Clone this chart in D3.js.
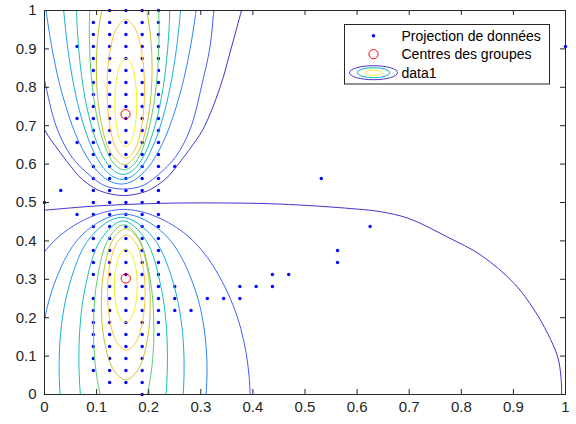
<!DOCTYPE html>
<html><head><meta charset="utf-8">
<script src="https://cdn.jsdelivr.net/npm/d3@7"></script>
<style>html,body{margin:0;padding:0;background:#fff;} svg{display:block;}</style>
</head><body>
<svg id="chart" width="576" height="424"></svg>
<script>
// ---------------- data ----------------
const xTickValues = [0,0.1,0.2,0.3,0.4,0.5,0.6,0.7,0.8,0.9,1];
const xTickLabels = ["0","0.1","0.2","0.3","0.4","0.5","0.6","0.7","0.8","0.9","1"];
const yTickValues = [0,0.1,0.2,0.3,0.4,0.5,0.6,0.7,0.8,0.9,1];
const yTickLabels = ["0","0.1","0.2","0.3","0.4","0.5","0.6","0.7","0.8","0.9","1"];

const legendLabels = ["Projection de données","Centres des groupes","data1"];

// Projected data points, grouped by row: [y, [x values]]
const projRows = [
  [1.0,     [0.125,0.15625,0.1875,0.21875]],
  [0.96875, [0.09375,0.125,0.15625,0.1875,0.21875]],
  [0.9375,  [0.09375,0.125,0.15625,0.1875,0.21875]],
  [0.90625, [0.0625,0.09375,0.125,0.15625,0.1875,0.21875,1.0]],
  [0.875,   [0.09375,0.125,0.15625,0.1875,0.21875]],
  [0.84375, [0.09375,0.125,0.15625,0.1875,0.21875]],
  [0.8125,  [0.09375,0.125,0.15625,0.1875,0.21875]],
  [0.78125, [0.09375,0.125,0.15625,0.1875,0.21875]],
  [0.75,    [0.09375,0.125,0.15625,0.1875,0.21875]],
  [0.71875, [0.0625,0.09375,0.125,0.15625,0.1875,0.21875]],
  [0.6875,  [0.09375,0.125,0.15625,0.1875,0.21875]],
  [0.65625, [0.0625,0.09375,0.125,0.15625,0.1875,0.21875]],
  [0.625,   [0.09375,0.125,0.15625,0.1875,0.21875]],
  [0.59375, [0.09375,0.125,0.15625,0.1875,0.21875,0.25]],
  [0.5625,  [0.09375,0.125,0.15625,0.1875,0.21875,0.53125]],
  [0.53125, [0.03125,0.09375,0.125,0.15625,0.1875,0.21875]],
  [0.5,     [0,0.09375,0.125,0.15625,0.1875,0.21875]],
  [0.46875, [0.0625,0.09375,0.125,0.15625,0.1875,0.21875]],
  [0.4375,  [0.09375,0.125,0.15625,0.1875,0.21875,0.625]],
  [0.40625, [0.09375,0.125,0.15625,0.1875,0.21875]],
  [0.375,   [0.09375,0.125,0.15625,0.1875,0.21875,0.5625]],
  [0.34375, [0.09375,0.125,0.15625,0.1875,0.21875,0.5625]],
  [0.3125,  [0.09375,0.125,0.15625,0.1875,0.21875,0.4375,0.46875]],
  [0.28125, [0.125,0.15625,0.1875,0.21875,0.25,0.375,0.40625,0.4375]],
  [0.25,    [0.09375,0.125,0.15625,0.1875,0.21875,0.25,0.3125,0.34375,0.375]],
  [0.21875, [0.09375,0.125,0.15625,0.1875,0.21875,0.25,0.28125]],
  [0.1875,  [0.09375,0.125,0.15625,0.1875,0.21875]],
  [0.15625, [0.09375,0.125,0.15625,0.1875,0.21875]],
  [0.125,   [0.09375,0.125,0.15625,0.1875]],
  [0.09375, [0.09375,0.125,0.15625,0.1875]],
  [0.0625,  [0.09375,0.125,0.15625,0.1875]],
  [0.03125, [0.125,0.15625,0.1875]],
  [0,       [0.1875]]
];

// Group centres
const centersX = [0.1555, 0.156];
const centersY = [0.730, 0.302];

// Contour levels (1 = lowest density, 9 = highest)
const contourLevels = [1,2,3,4,5,6,7,8,9];

// Upper group contour lines, index = level-1
const upperContours = [
  [[-0.083,1.05],[-0.074,1.0],[-0.054,0.9],[-0.033,0.8],[0.0,0.69],[0.027,0.636],[0.047,0.6],[0.065,0.57],[0.082,0.55],[0.107,0.53],[0.152,0.518],[0.197,0.53],[0.222,0.55],[0.239,0.57],[0.257,0.6],[0.277,0.636],[0.304,0.69],[0.337,0.8],[0.358,0.9],[0.378,1.0],[0.387,1.05]],
  [[-0.024,1.05],[-0.021,1.0],[-0.013,0.9],[0.0,0.818],[0.022,0.7],[0.044,0.636],[0.064,0.6],[0.107,0.55],[0.124,0.54],[0.152,0.535],[0.18,0.54],[0.197,0.55],[0.24,0.6],[0.26,0.636],[0.282,0.7],[0.304,0.818],[0.317,0.9],[0.325,1.0],[0.328,1.05]],
  [[-0.0014,1.05],[0.003,1.0],[0.0146,0.9],[0.0306,0.8],[0.0533,0.7],[0.0726,0.64],[0.0959,0.59],[0.1218,0.558],[0.147,0.548],[0.1722,0.558],[0.1981,0.59],[0.2214,0.64],[0.2407,0.7],[0.2634,0.8],[0.2794,0.9],[0.291,1.0],[0.2954,1.05]],
  [[0.0343,1.05],[0.0369,1.0],[0.0448,0.9],[0.0569,0.8],[0.071,0.72],[0.0887,0.65],[0.1079,0.6],[0.1282,0.57],[0.149,0.56],[0.1698,0.57],[0.1901,0.6],[0.2093,0.65],[0.227,0.72],[0.2411,0.8],[0.2532,0.9],[0.2611,1.0],[0.2637,1.05]],
  [[0.061,1.05],[0.063,0.95],[0.0693,0.85],[0.081,0.75],[0.0992,0.66],[0.1162,0.61],[0.1327,0.583],[0.151,0.573],[0.1693,0.583],[0.1858,0.61],[0.2028,0.66],[0.221,0.75],[0.2327,0.85],[0.239,0.95],[0.241,1.05]],
  [[0.0886,1.05],[0.086,0.95],[0.0886,0.85],[0.097,0.75],[0.110,0.67],[0.1244,0.62],[0.1374,0.595],[0.153,0.585],[0.1686,0.595],[0.1816,0.62],[0.196,0.67],[0.209,0.75],[0.2174,0.85],[0.22,0.95],[0.2174,1.05]],
  [[0.153,1.102],[0.1798,1.0682],[0.1993,0.9762],[0.2065,0.85],[0.1993,0.7238],[0.1798,0.6318],[0.153,0.598],[0.1263,0.6318],[0.1067,0.7238],[0.0995,0.85],[0.1067,0.9762],[0.1263,1.0682]],
  [[0.156,0.977],[0.174,0.9528],[0.1872,0.8865],[0.192,0.796],[0.1872,0.7055],[0.174,0.6393],[0.156,0.615],[0.138,0.6393],[0.1248,0.7055],[0.12,0.796],[0.1248,0.8865],[0.138,0.9528]],
  [[0.156,0.875],[0.1665,0.8596],[0.1742,0.8175],[0.177,0.76],[0.1742,0.7025],[0.1665,0.6604],[0.156,0.645],[0.1455,0.6604],[0.1378,0.7025],[0.135,0.76],[0.1378,0.8175],[0.1455,0.8596]]
];
const upperClosed = [false,false,false,false,false,false,true,true,true];

// Lower group contour lines, index = level-1
const lowerContours = [
  [[-0.05,0.474],[0.0,0.48],[0.1,0.491],[0.2,0.497],[0.3,0.499],[0.45,0.496],[0.59,0.484],[0.645,0.476],[0.7,0.458],[0.7735,0.41],[0.8375,0.363],[0.9016,0.289],[0.94,0.22],[0.9657,0.159],[0.985,0.098],[0.9913,0.046],[0.9926,0.0],[0.992,-0.03]],
  [[0.152,0.482],[0.2735,0.4147],[0.3624,0.231],[0.395,-0.02],[0.3624,-0.271],[0.2735,-0.4547],[0.152,-0.522],[0.0305,-0.4547],[-0.0584,-0.271],[-0.091,-0.02],[-0.0584,0.231],[0.0305,0.4147]],
  [[0.152,0.47],[0.232,0.4156],[0.2906,0.267],[0.312,0.064],[0.2906,-0.139],[0.232,-0.2876],[0.152,-0.342],[0.072,-0.2876],[0.0134,-0.139],[-0.008,0.064],[0.0134,0.267],[0.072,0.4156]],
  [[0.148,0.4615],[0.208,0.4093],[0.2519,0.2665],[0.268,0.0715],[0.2519,-0.1235],[0.208,-0.2663],[0.148,-0.3185],[0.088,-0.2663],[0.0441,-0.1235],[0.028,0.0715],[0.0441,0.2665],[0.088,0.4093]],
  [[0.151,0.452],[0.1935,0.4042],[0.2246,0.2735],[0.236,0.095],[0.2246,-0.0835],[0.1935,-0.2142],[0.151,-0.262],[0.1085,-0.2142],[0.0774,-0.0835],[0.066,0.095],[0.0774,0.2735],[0.1085,0.4042]],
  [[0.152,0.442],[0.181,0.4056],[0.2022,0.306],[0.21,0.17],[0.2022,0.034],[0.181,-0.0656],[0.152,-0.102],[0.123,-0.0656],[0.1018,0.034],[0.094,0.17],[0.1018,0.306],[0.123,0.4056]],
  [[0.156,0.432],[0.1795,0.4056],[0.1967,0.3335],[0.203,0.235],[0.1967,0.1365],[0.1795,0.0644],[0.156,0.038],[0.1325,0.0644],[0.1153,0.1365],[0.109,0.235],[0.1153,0.3335],[0.1325,0.4056]],
  [[0.157,0.415],[0.175,0.3949],[0.1882,0.34],[0.193,0.265],[0.1882,0.19],[0.175,0.1351],[0.157,0.115],[0.139,0.1351],[0.1258,0.19],[0.121,0.265],[0.1258,0.34],[0.139,0.3949]],
  [[0.156,0.378],[0.167,0.3653],[0.175,0.3305],[0.178,0.283],[0.175,0.2355],[0.167,0.2007],[0.156,0.188],[0.145,0.2007],[0.137,0.2355],[0.134,0.283],[0.137,0.3305],[0.145,0.3653]]
];
const lowerClosed = [false,true,true,true,true,true,true,true,true];

// ---------------- style helpers ----------------
const parulaMap = [
[0.2422,0.1504,0.6603],[0.2504,0.1650,0.7076],[0.2578,0.1818,0.7511],[0.2647,0.1978,0.7952],
[0.2706,0.2147,0.8364],[0.2751,0.2342,0.8710],[0.2783,0.2559,0.8991],[0.2803,0.2782,0.9221],
[0.2813,0.3006,0.9414],[0.2810,0.3228,0.9579],[0.2795,0.3447,0.9717],[0.2760,0.3667,0.9829],
[0.2699,0.3892,0.9906],[0.2602,0.4123,0.9952],[0.2440,0.4358,0.9988],[0.2206,0.4603,0.9973],
[0.1963,0.4847,0.9892],[0.1834,0.5074,0.9798],[0.1786,0.5289,0.9682],[0.1764,0.5499,0.9520],
[0.1687,0.5703,0.9359],[0.1540,0.5902,0.9218],[0.1460,0.6091,0.9079],[0.1380,0.6276,0.8973],
[0.1248,0.6459,0.8883],[0.1113,0.6635,0.8763],[0.0952,0.6798,0.8598],[0.0689,0.6948,0.8394],
[0.0297,0.7082,0.8163],[0.0036,0.7203,0.7917],[0.0067,0.7312,0.7660],[0.0433,0.7411,0.7394],
[0.0964,0.7501,0.7120],[0.1408,0.7584,0.6842],[0.1717,0.7670,0.6554],[0.1938,0.7758,0.6251],
[0.2161,0.7843,0.5923],[0.2470,0.7918,0.5567],[0.2906,0.7973,0.5188],[0.3406,0.8008,0.4789],
[0.3909,0.8029,0.4354],[0.4456,0.8024,0.3909],[0.5044,0.7993,0.3480],[0.5616,0.7942,0.3045],
[0.6174,0.7876,0.2612],[0.6720,0.7793,0.2227],[0.7242,0.7698,0.1910],[0.7738,0.7598,0.1646],
[0.8203,0.7498,0.1535],[0.8634,0.7406,0.1596],[0.9035,0.7330,0.1774],[0.9393,0.7288,0.2100],
[0.9728,0.7298,0.2394],[0.9956,0.7434,0.2371],[0.9970,0.7659,0.2199],[0.9952,0.7893,0.2028],
[0.9892,0.8136,0.1885],[0.9786,0.8386,0.1766],[0.9676,0.8639,0.1643],[0.9610,0.8890,0.1537],
[0.9597,0.9135,0.1423],[0.9628,0.9373,0.1265],[0.9691,0.9606,0.1064],[0.9769,0.9839,0.0805]];
function parula(t){
  t = Math.max(0, Math.min(1, t));
  const p = t*(parulaMap.length-1), i = Math.min(Math.floor(p), parulaMap.length-2), f = p-i;
  const a = parulaMap[i], b = parulaMap[i+1];
  return d3.rgb((a[0]+(b[0]-a[0])*f)*255,(a[1]+(b[1]-a[1])*f)*255,(a[2]+(b[2]-a[2])*f)*255).formatHex();
}
const levelT = d3.scaleLinear().domain([0.55, 9.25]).range([0,1]);
const levelColor = L => parula(levelT(L));

const FONT = "'Liberation Sans', Arial, Helvetica, sans-serif";
const AX = "#262626";

// ---------------- chart ----------------
const svg = d3.select("#chart");
const x = d3.scaleLinear().domain([0,1]).range([44,565]);
const y = d3.scaleLinear().domain([0,1]).range([394,10]);

svg.append("defs").append("clipPath").attr("id","plotclip")
  .append("rect").attr("x",44.5).attr("y",10.5).attr("width",521).attr("height",384);

// data points
const pts = projRows.flatMap(([yy, xs]) => xs.map(xx => [xx, yy]));
svg.append("g").selectAll("circle").data(pts).join("circle")
  .attr("cx", d => x(d[0])+0.5).attr("cy", d => y(d[1])+0.5)
  .attr("r", 1.7).attr("fill", "#0000ff");

// centres
svg.append("g").selectAll("circle").data(centersX.map((cx,i)=>[cx,centersY[i]])).join("circle")
  .attr("cx", d => x(d[0])+0.5).attr("cy", d => y(d[1])+0.5)
  .attr("r", 4.6).attr("fill","none").attr("stroke","#ff0000").attr("stroke-width",1);

// contours
const lineOpen = d3.line().x(d=>x(d[0])+0.5).y(d=>y(d[1])+0.5).curve(d3.curveCatmullRom.alpha(0.5));
const lineClosed = d3.line().x(d=>x(d[0])+0.5).y(d=>y(d[1])+0.5).curve(d3.curveCatmullRomClosed.alpha(0.5));
const cg = svg.append("g").attr("clip-path","url(#plotclip)");
const allContours = [];
contourLevels.forEach((L,i) => {
  allContours.push({L, pts: upperContours[i], closed: upperClosed[i]});
  allContours.push({L, pts: lowerContours[i], closed: lowerClosed[i]});
});
cg.selectAll("path").data(allContours).join("path")
  .attr("d", d => (d.closed ? lineClosed : lineOpen)(d.pts))
  .attr("fill","none").attr("stroke", d => levelColor(d.L)).attr("stroke-width",1);

// axes
function styleAxis(g){
  g.select(".domain").remove();
  g.selectAll(".tick line").attr("stroke", AX);
  g.selectAll(".tick text").attr("fill", AX).attr("font-family", FONT).attr("font-size", 15);
}
svg.append("g").attr("transform","translate(0,394)")
  .call(d3.axisBottom(x).tickValues(xTickValues).tickFormat((d,i)=>xTickLabels[i]).tickSizeInner(-5).tickSizeOuter(0).tickPadding(7))
  .call(styleAxis);
svg.append("g").attr("transform","translate(0,10)")
  .call(d3.axisTop(x).tickValues(xTickValues).tickFormat("").tickSizeInner(-5).tickSizeOuter(0))
  .call(styleAxis);
svg.append("g").attr("transform","translate(44,0)")
  .call(d3.axisLeft(y).tickValues(yTickValues).tickFormat((d,i)=>yTickLabels[i]).tickSizeInner(-5).tickSizeOuter(0).tickPadding(7.5))
  .call(styleAxis);
svg.append("g").attr("transform","translate(565,0)")
  .call(d3.axisRight(y).tickValues(yTickValues).tickFormat("").tickSizeInner(-5).tickSizeOuter(0))
  .call(styleAxis);
svg.append("rect").attr("x",44.5).attr("y",10.5).attr("width",521).attr("height",384)
  .attr("fill","none").attr("stroke",AX).attr("stroke-width",1);

// legend
const lg = svg.append("g");
lg.append("rect").attr("x",344.5).attr("y",24.5).attr("width",205).attr("height",59.5)
  .attr("fill","#fff").attr("stroke",AX).attr("stroke-width",1);
const rowsY = [35.7, 54.2, 72.7];
const mx = 373.5;
lg.append("circle").attr("cx",mx).attr("cy",rowsY[0]).attr("r",1.7).attr("fill","#0000ff");
lg.append("circle").attr("cx",mx).attr("cy",rowsY[1]).attr("r",4.6).attr("fill","none").attr("stroke","#ff0000");
[[24,7,1],[16.3,5,4.5],[8.3,2.7,9]].forEach(([rx,ry,L]) => {
  lg.append("ellipse").attr("cx",mx).attr("cy",rowsY[2]).attr("rx",rx).attr("ry",ry)
    .attr("fill","none").attr("stroke",levelColor(L)).attr("stroke-width",1);
});
lg.selectAll("text").data(legendLabels).join("text")
  .attr("x",401.5).attr("y",(d,i)=>rowsY[i]).attr("dy","0.35em")
  .attr("font-family",FONT).attr("font-size",14).attr("fill","#000")
  .text(d=>d);
</script>
</body></html>
